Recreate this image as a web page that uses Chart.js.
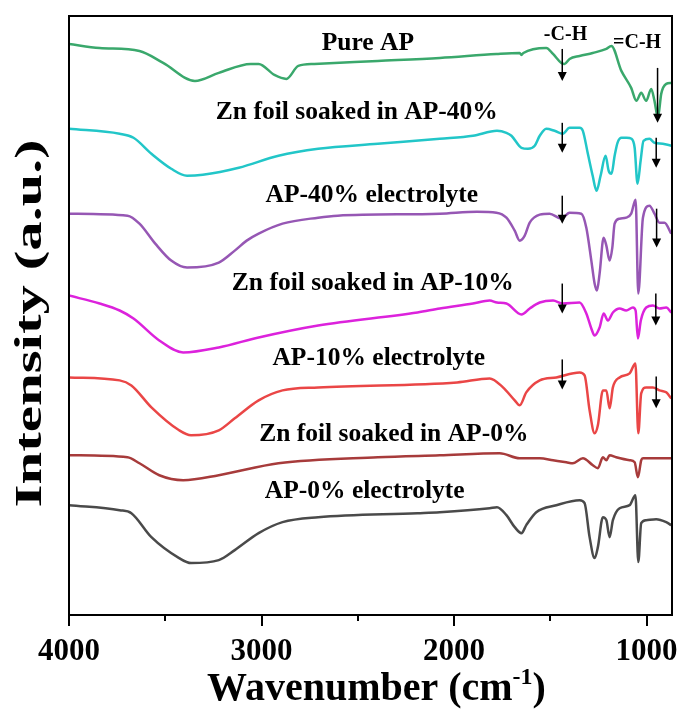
<!DOCTYPE html>
<html>
<head>
<meta charset="utf-8">
<script src="https://cdn.jsdelivr.net/npm/chart.js@4/dist/chart.umd.min.js"></script>
<style>
  html, body { margin: 0; padding: 0; background: #fff; }
  canvas { display: block; }
</style>
</head>
<body>
<canvas id="ftir" width="680" height="713"></canvas>
<script>
// FTIR spectra, stacked with vertical offsets (arbitrary units)
const pureApWn  = [4000, 3841, 3634, 3511, 3346, 3222, 3056, 3015, 2933, 2871, 2809, 2726, 2396, 2074, 1780, 1659, 1650, 1640, 1521, 1486, 1443, 1426, 1400, 1348, 1280, 1209, 1183, 1131, 1080, 1053, 1028, 1002, 976, 959, 941, 924, 898, 872];
const pureApVal = [572, 568, 565, 553, 535, 543, 552, 552, 541, 537, 550, 552, 555, 558, 562, 563, 561, 563, 568, 562, 553, 552, 557, 560, 563, 567, 570, 545, 528, 515, 523, 515, 527, 515, 498, 522, 532, 533];

const zn40Wn  = [4000, 3737, 3665, 3572, 3469, 3387, 3305, 3118, 2912, 2706, 2396, 2074, 1902, 1777, 1728, 1702, 1650, 1616, 1581, 1555, 1521, 1478, 1435, 1400, 1348, 1331, 1305, 1280, 1260, 1239, 1213, 1197, 1182, 1166, 1151, 1130, 1104, 1078, 1062, 1047, 1031, 1016, 985, 959, 916, 870];
const zn40Val = [487, 482, 478, 462, 447, 440, 441, 448, 460, 467, 472, 477, 480, 485, 483, 480, 468, 467, 470, 480, 487, 485, 482, 488, 488, 485, 462, 440, 425, 440, 460, 445, 442, 460, 473, 478, 478, 477, 468, 432, 455, 475, 477, 473, 472, 470];

const ap40Wn  = [4000, 3696, 3634, 3552, 3469, 3387, 3222, 3139, 3077, 3015, 2891, 2706, 2604, 2074, 1881, 1780, 1728, 1685, 1659, 1633, 1607, 1555, 1504, 1443, 1400, 1339, 1313, 1287, 1270, 1258, 1244, 1223, 1209, 1192, 1178, 1166, 1140, 1106, 1080, 1057, 1043, 1019, 985, 959, 933, 907, 872];
const ap40Val = [402, 400, 392, 372, 355, 348, 353, 365, 375, 382, 392, 398, 400, 402, 404, 403, 398, 385, 375, 380, 393, 401, 402, 397, 403, 402, 388, 355, 332, 325, 342, 378, 370, 355, 368, 392, 397, 398, 402, 416, 322, 398, 410, 402, 393, 393, 382];

const zn10Wn  = [4000, 3841, 3737, 3665, 3531, 3407, 3222, 3015, 2706, 2190, 2074, 1902, 1815, 1777, 1728, 1650, 1607, 1555, 1486, 1435, 1348, 1313, 1287, 1270, 1244, 1223, 1201, 1175, 1140, 1106, 1071, 1057, 1045, 1030, 1002, 967, 933, 898, 872];
const zn10Val = [320, 312, 305, 297, 275, 263, 268, 278, 290, 303, 307, 312, 315, 313, 312, 301, 307, 313, 315, 312, 313, 302, 287, 280, 288, 302, 295, 303, 307, 305, 308, 305, 277, 295, 308, 310, 307, 308, 303];

const ap10Wn  = [4000, 3737, 3676, 3572, 3428, 3366, 3222, 3139, 3015, 2891, 2706, 1984, 1815, 1746, 1685, 1659, 1625, 1555, 1469, 1348, 1322, 1296, 1270, 1253, 1227, 1209, 1192, 1175, 1140, 1088, 1058, 1043, 1028, 1002, 967, 933, 898, 872];
const ap10Val = [238, 235, 230, 208, 185, 180, 185, 197, 215, 225, 228, 233, 237, 228, 215, 210, 223, 235, 238, 243, 240, 205, 182, 190, 225, 225, 207, 228, 238, 242, 252, 182, 222, 228, 228, 225, 223, 217];

const zn0Wn  = [4000, 3696, 3634, 3531, 3407, 3222, 2912, 2396, 2074, 1763, 1659, 1555, 1486, 1417, 1383, 1331, 1279, 1253, 1227, 1209, 1192, 1158, 1088, 1062, 1045, 1028, 1019, 870];
const zn0Val = [160, 158, 152, 140, 135, 140, 152, 158, 160, 162, 157, 157, 155, 153, 152, 157, 150, 147, 158, 155, 160, 158, 155, 153, 138, 155, 157, 157];

const ap0Wn  = [4000, 3737, 3676, 3572, 3428, 3366, 3222, 3139, 3015, 2891, 2706, 2190, 2074, 1815, 1777, 1728, 1685, 1650, 1625, 1573, 1469, 1348, 1322, 1296, 1270, 1253, 1227, 1209, 1192, 1175, 1140, 1088, 1058, 1043, 1028, 1002, 950, 898, 872];
const ap0Val = [110, 105, 102, 78, 57, 52, 55, 65, 82, 93, 98, 102, 103, 107, 108, 100, 88, 82, 90, 103, 110, 115, 112, 78, 57, 68, 98, 95, 78, 95, 107, 110, 120, 53, 92, 95, 96, 93, 90];

// curve names, drawn next to each spectrum
const curveLabels = ['Pure AP', 'Zn foil soaked in AP-40%', 'AP-40% electrolyte', 'Zn foil soaked in AP-10%', 'AP-10% electrolyte', 'Zn foil soaked in AP-0%', 'AP-0% electrolyte'];
const labelWn  = [2448, 2505, 2427, 2422, 2391, 2313, 2464];
const labelVal = [573, 503, 420, 332, 257, 181, 124];

// band assignments and their marker arrows
const bandNames = ['-C-H', '=C-H'];
const bandNameWn = [1421, 1049];
const bandNameVal = [581, 573];
const chArrowWn = 1438;
const chArrowFrom = [567, 493, 420, 332, 256];
const chArrowTo   = [535, 463, 392, 302, 226];
const dchArrowWn = [943, 950, 948, 952, 950];
const dchArrowFrom = [548, 478, 407, 322, 239];
const dchArrowTo   = [493, 448, 368, 290, 207];

const majorTicks = [4000, 3000, 2000, 1000];
const minorTicks = [3500, 2500, 1500];

const series = [
  { wn: pureApWn, val: pureApVal, color: '#3aa86c' },
  { wn: zn40Wn,  val: zn40Val,  color: '#22c6c8' },
  { wn: ap40Wn,  val: ap40Val,  color: '#9657b4' },
  { wn: zn10Wn,  val: zn10Val,  color: '#dc22dc' },
  { wn: ap10Wn,  val: ap10Val,  color: '#ea4646' },
  { wn: zn0Wn,   val: zn0Val,   color: '#a73b3b' },
  { wn: ap0Wn,   val: ap0Val,   color: '#4a4a4a' }
];

const SERIF = '"Liberation Serif", "Times New Roman", serif';

const notes = {
  id: 'spectraNotes',
  afterDatasetsDraw(chart) {
    const { ctx, chartArea: a, scales: { x, y } } = chart;
    ctx.save();
    // frame
    ctx.strokeStyle = '#000';
    ctx.lineWidth = 2;
    ctx.strokeRect(a.left, a.top, a.right - a.left, a.bottom - a.top);
    // tick marks below the bottom axis
    majorTicks.forEach(v => {
      const px = Math.round(x.getPixelForValue(v));
      ctx.beginPath(); ctx.moveTo(px, a.bottom); ctx.lineTo(px, a.bottom + 11); ctx.stroke();
    });
    minorTicks.forEach(v => {
      const px = Math.round(x.getPixelForValue(v));
      ctx.beginPath(); ctx.moveTo(px, a.bottom); ctx.lineTo(px, a.bottom + 6); ctx.stroke();
    });
    // curve names
    ctx.fillStyle = '#000';
    ctx.textAlign = 'center';
    ctx.textBaseline = 'middle';
    ctx.font = 'bold 25.5px ' + SERIF;
    curveLabels.forEach((t, i) => {
      ctx.fillText(t, x.getPixelForValue(labelWn[i]), y.getPixelForValue(labelVal[i]));
    });
    ctx.font = 'bold 20px ' + SERIF;
    bandNames.forEach((t, i) => {
      ctx.fillText(t, x.getPixelForValue(bandNameWn[i]), y.getPixelForValue(bandNameVal[i]));
    });
    // arrows
    const arrow = (wn, from, to) => {
      const px = x.getPixelForValue(wn);
      const y0 = y.getPixelForValue(from);
      const y1 = y.getPixelForValue(to);
      ctx.lineWidth = 1.5;
      ctx.beginPath(); ctx.moveTo(px, y0); ctx.lineTo(px, y1 - 8); ctx.stroke();
      ctx.beginPath();
      ctx.moveTo(px - 4.5, y1 - 9); ctx.lineTo(px + 4.5, y1 - 9); ctx.lineTo(px, y1); ctx.closePath();
      ctx.fill();
    };
    chArrowFrom.forEach((f, i) => arrow(chArrowWn, f, chArrowTo[i]));
    dchArrowFrom.forEach((f, i) => arrow(dchArrowWn[i], f, dchArrowTo[i]));

    // axis titles
    ctx.font = 'bold 40px ' + SERIF;
    ctx.textAlign = 'left';
    ctx.textBaseline = 'alphabetic';
    const main = 'Wavenumber (cm';
    const sup = '-1';
    const close = ')';
    const wMain = ctx.measureText(main).width;
    const wClose = ctx.measureText(close).width;
    ctx.font = 'bold 24px ' + SERIF;
    const wSup = ctx.measureText(sup).width;
    const total = wMain + wSup + wClose;
    const cx = (a.left + a.right) / 2 + 6;
    let sx = cx - total / 2;
    const base = 700;
    ctx.font = 'bold 40px ' + SERIF;
    ctx.fillText(main, sx, base);
    ctx.font = 'bold 24px ' + SERIF;
    ctx.fillText(sup, sx + wMain, base - 16);
    ctx.font = 'bold 40px ' + SERIF;
    ctx.fillText(close, sx + wMain + wSup, base);

    ctx.save();
    ctx.translate(31, (a.top + a.bottom) / 2 + 8);
    ctx.rotate(-Math.PI / 2);
    ctx.font = 'bold 38px ' + SERIF;
    ctx.textAlign = 'center';
    ctx.textBaseline = 'middle';
    const yt = 'Intensity (a.u.)';
    const wy = ctx.measureText(yt).width;
    ctx.scale(368 / wy, 1);
    ctx.fillText(yt, 0, 0);
    ctx.restore();
    ctx.restore();
  }
};

new Chart(document.getElementById('ftir'), {
  type: 'line',
  data: {
    datasets: series.map(s => ({
      data: s.wn.map((w, i) => ({ x: w, y: s.val[i] })),
      borderColor: s.color,
      borderWidth: 2.5,
      pointRadius: 0,
      cubicInterpolationMode: 'monotone',
      fill: false
    }))
  },
  options: {
    responsive: false,
    animation: false,
    devicePixelRatio: 1,
    layout: { padding: { left: 0, right: 8, top: 16, bottom: 0 } },
    plugins: { legend: { display: false }, tooltip: { enabled: false } },
    scales: {
      x: {
        type: 'linear',
        reverse: true,
        min: 868,
        max: 4000,
        grid: { display: false, drawTicks: false },
        border: { display: false },
        afterBuildTicks: s => { s.ticks = majorTicks.map(v => ({ value: v })); },
        afterFit: s => { s.height = 98; s.paddingLeft = 0; s.paddingRight = 0; },
        ticks: {
          color: '#000',
          padding: 18,
          maxRotation: 0,
          autoSkip: false,
          callback: v => String(v),
          font: { family: SERIF, size: 31, weight: 'bold' }
        }
      },
      y: {
        min: 0,
        max: 600,
        grid: { display: false, drawTicks: false },
        border: { display: false },
        ticks: { display: false },
        afterFit: s => { s.width = 69; }
      }
    }
  },
  plugins: [notes]
});
</script>
</body>
</html>
